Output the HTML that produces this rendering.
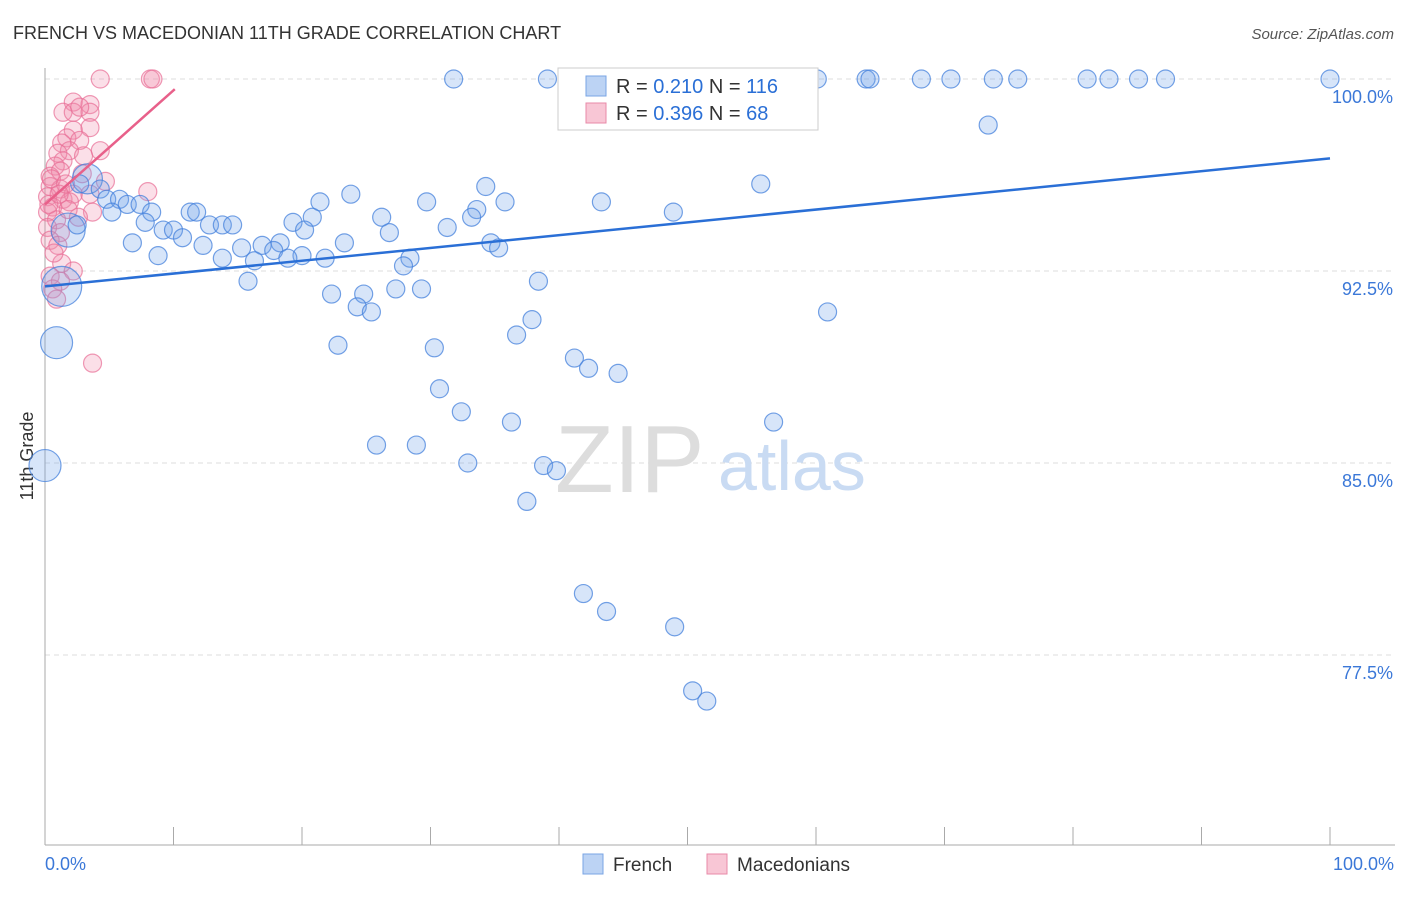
<!DOCTYPE html>
<html><head><meta charset="utf-8"><style>
body{margin:0;background:#fff;font-family:"Liberation Sans",sans-serif}
svg text{font-family:"Liberation Sans",sans-serif}
</style></head><body>
<svg width="1406" height="892">
<text x="13" y="39" font-size="18" fill="#333">FRENCH VS MACEDONIAN 11TH GRADE CORRELATION CHART</text>
<text x="1394" y="39" font-size="15" fill="#555" font-style="italic" text-anchor="end">Source: ZipAtlas.com</text>
<text x="33" y="456" font-size="18" fill="#333" transform="rotate(-90 33 456)" text-anchor="middle">11th Grade</text>
<g id="grid"></g>
<text x="555" y="492" font-size="96" fill="#ddd" font-family="Liberation Serif">ZIP</text>
<text x="718" y="490" font-size="70" fill="#c9dbf3">atlas</text>
<g id="pts"></g>
<g id="lines"></g>
<g>
<rect x="558" y="68" width="260" height="62" fill="#fff" stroke="#ccc"/>
<rect x="586" y="76" width="20" height="20" fill="#bcd3f4" stroke="#7aa5e4"/>
<text x="616" y="93" font-size="20" fill="#333">R = <tspan fill="#2a6fd6">0.210</tspan>   N = <tspan fill="#2a6fd6">116</tspan></text>
<rect x="586" y="103" width="20" height="20" fill="#f8c6d5" stroke="#e88aa8"/>
<text x="616" y="120" font-size="20" fill="#333">R = <tspan fill="#2a6fd6">0.396</tspan>    N =  <tspan fill="#2a6fd6">68</tspan></text>
</g>
<g>
<rect x="583" y="854" width="20" height="20" fill="#bcd3f4" stroke="#7aa5e4"/>
<text x="613" y="871" font-size="19" fill="#333">French</text>
<rect x="707" y="854" width="20" height="20" fill="#f8c6d5" stroke="#e88aa8"/>
<text x="737" y="871" font-size="19" fill="#333">Macedonians</text>
</g>
</svg>
<script>
const yTicks=[100,92.5,85,77.5];
const yTickLabels=["100.0%","92.5%","85.0%","77.5%"];
const xTicks=[0,10,20,30,40,50,60,70,80,90,100];
const xEndLabels=["0.0%","100.0%"];
const frenchX=[31.8,39.1,41.1,47.2,52.5,56.1,60.1,63.9,64.2,68.2,70.5,73.8,75.7,81.1,82.8,85.1,87.2,100,73.4,55.7,34.3,23.8,21.4,29.7,35.8,43.3,33.6,48.9,33.2,26.2,20.8,19.3,31.3,26.8,20.2,34.7,35.3,23.3,18.3,16.9,15.3,17.8,20.0,18.9,16.3,13.8,21.8,28.4,27.9,15.8,38.4,27.3,29.3,22.3,24.8,24.3,25.4,60.9,37.9,36.7,22.8,30.3,41.2,42.3,44.6,30.7,32.4,36.3,56.7,25.8,28.9,32.9,38.8,39.8,37.5,41.9,43.7,49.0,50.4,51.5,3.3,2.7,4.3,4.8,5.8,6.4,7.4,8.3,5.2,1.8,2.5,7.8,11.3,11.8,9.2,10.0,10.7,12.8,13.8,14.6,6.8,8.8,12.3,1.3,0.9,0];
const frenchY=[100,100,100,100,100,100,100,100,100,100,100,100,100,100,100,100,100,100,98.2,95.9,95.8,95.5,95.2,95.2,95.2,95.2,94.9,94.8,94.6,94.6,94.6,94.4,94.2,94.0,94.1,93.6,93.4,93.6,93.6,93.5,93.4,93.3,93.1,93.0,92.9,93.0,93.0,93.0,92.7,92.1,92.1,91.8,91.8,91.6,91.6,91.1,90.9,90.9,90.6,90.0,89.6,89.5,89.1,88.7,88.5,87.9,87.0,86.6,86.6,85.7,85.7,85.0,84.9,84.7,83.5,79.9,79.2,78.6,76.1,75.7,96.1,95.9,95.7,95.3,95.3,95.1,95.1,94.8,94.8,94.1,94.3,94.4,94.8,94.8,94.1,94.1,93.8,94.3,94.3,94.3,93.6,93.1,93.5,91.9,89.7,84.9];
const frenchSize=[9,9,9,9,9,9,9,9,9,9,9,9,9,9,9,9,9,9,9,9,9,9,9,9,9,9,9,9,9,9,9,9,9,9,9,9,9,9,9,9,9,9,9,9,9,9,9,9,9,9,9,9,9,9,9,9,9,9,9,9,9,9,9,9,9,9,9,9,9,9,9,9,9,9,9,9,9,9,9,9,15,9,9,9,9,9,9,9,9,17,9,9,9,9,9,9,9,9,9,9,9,9,9,20,16,16];
const macX=[4.3,8.2,8.4,2.2,3.5,1.4,3.5,2.2,3.5,2.2,1.7,2.7,1.3,4.3,1.9,1.0,3.0,1.4,0.8,0.4,1.2,4.7,8.0,0.4,1.2,0.2,1.4,2.2,3.5,0.6,1.9,0.2,3.7,0.9,2.6,0.2,1.2,0.4,1.0,1.3,2.2,0.4,1.2,0.6,0.9,3.7,2.7,0.5,1.6,2.9,0.3,1.8,1.1,0.7];
const macY=[100,100,100,99.1,99.0,98.7,98.7,98.7,98.1,98.0,97.7,97.6,97.5,97.2,97.2,97.1,97.0,96.8,96.6,96.2,96.4,96.0,95.6,95.8,95.7,95.4,95.3,95.5,95.5,95.0,95.2,94.8,94.8,94.5,94.6,94.2,94.0,93.7,93.5,92.8,92.5,92.3,92.1,91.8,91.4,88.9,98.9,96.1,95.9,96.3,95.1,94.9,95.5,93.2];
const trendFrench=[91.9,96.9];
const trendMacX=[0,10.1];
const trendMacY=[95.1,99.6];
const NS="http://www.w3.org/2000/svg";
const X=v=>45+v*12.85, Y=v=>79+(100-v)*25.6;
function mk(t,a,p){const e=document.createElementNS(NS,t);for(const k in a)e.setAttribute(k,a[k]);p.appendChild(e);return e;}
const grid=document.getElementById('grid');
yTicks.forEach((v,i)=>{
 const l=mk('line',{x1:45,x2:1395,y1:Y(v),y2:Y(v),stroke:'#ddd','stroke-dasharray':'5,4'},grid);
 
 
 const t=mk('text',{x:1393,y:Y(v)+24,'font-size':18,fill:'#3b78d8','text-anchor':'end'},grid);
 t.textContent=yTickLabels[i];
 
 
});
const ax=mk('line',{x1:45,x2:45,y1:68,y2:845,stroke:'#aaa'},grid);


const bx=mk('line',{x1:45,x2:1395,y1:845,y2:845,stroke:'#aaa'},grid);


xTicks.forEach(v=>{const l=mk('line',{x1:X(v),x2:X(v),y1:827,y2:845,stroke:'#aaa'},grid);
 
 });
[[0,'start'],[100,'end']].forEach((p,i)=>{const t=mk('text',{x:X(p[0])+(i?64:0),y:870,'font-size':18,fill:'#3b78d8','text-anchor':p[1]},grid);
 t.textContent=xEndLabels[i];
 
 });
const pts=document.getElementById('pts');
macX.forEach((v,i)=>{const c=mk('circle',{cx:X(v),cy:Y(macY[i]),r:9,fill:'rgba(242,140,172,0.28)',stroke:'rgba(232,110,150,0.7)','stroke-width':1.2},pts);
 
 });
frenchX.forEach((v,i)=>{const c=mk('circle',{cx:X(v),cy:Y(frenchY[i]),r:frenchSize[i],fill:'rgba(110,160,232,0.28)',stroke:'rgba(70,130,220,0.75)','stroke-width':1.2},pts);
 
 });
const lines=document.getElementById('lines');
const tf=mk('line',{x1:X(0),y1:Y(trendFrench[0]),x2:X(100),y2:Y(trendFrench[1]),stroke:'#2a6fd6','stroke-width':2.5},lines);


const tm=mk('line',{x1:X(trendMacX[0]),y1:Y(trendMacY[0]),x2:X(trendMacX[1]),y2:Y(trendMacY[1]),stroke:'#e8608a','stroke-width':2.5},lines);


</script>
</body></html>
